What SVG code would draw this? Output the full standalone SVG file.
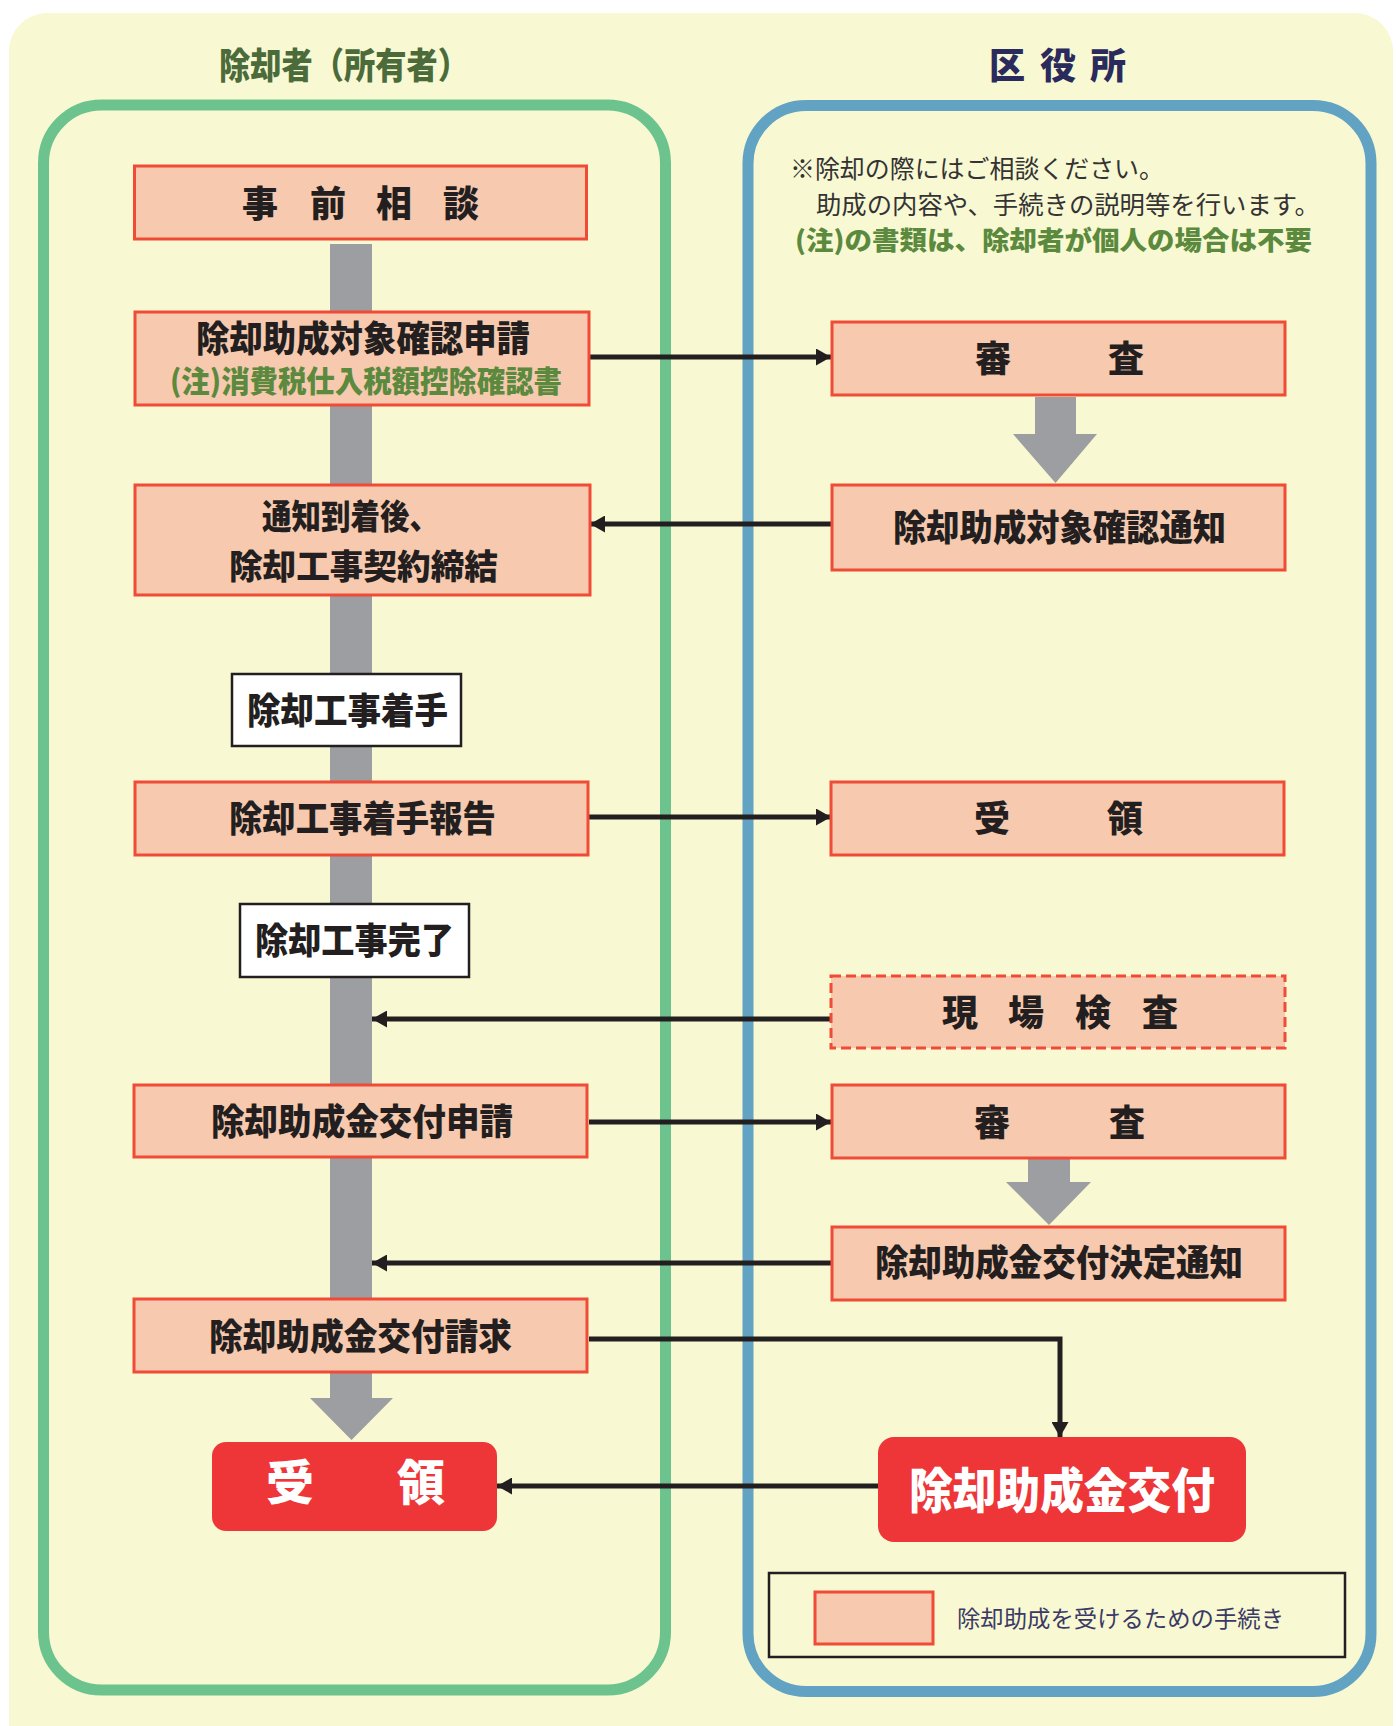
<svg xmlns="http://www.w3.org/2000/svg" width="1396" height="1726" viewBox="0 0 1396 1726">
<defs>
<style>
.bg{fill:#f8f8d2}
.lane-g{fill:none;stroke:#6cc38e;stroke-width:11}
.lane-b{fill:none;stroke:#62a2c2;stroke-width:11}
.step{fill:#f7c9ae;stroke:#ef4b37;stroke-width:3}
.dash{stroke-dasharray:10 5}
.event{fill:#ffffff;stroke:#231f20;stroke-width:2.5}
.final{fill:#ee3537}
.flow{fill:#9d9ea1}
.conn{fill:none;stroke:#231f20;stroke-width:5}
.lbl{font-family:"Noto Sans CJK JP","Noto Sans CJK SC",sans-serif;font-weight:900;font-size:36px;fill:#231f20}
.lblc{text-anchor:middle}
.white{fill:#ffffff;font-size:48px}
.note{font-family:"Noto Sans CJK JP",sans-serif;font-weight:400;font-size:25px;fill:#333333}
.noteg{font-family:"Noto Sans CJK JP",sans-serif;font-weight:900;font-size:26px;fill:#5b8a3e}
.sub{font-family:"Noto Sans CJK JP",sans-serif;font-weight:900;font-size:30px;fill:#5b8a3e}
.title{font-family:"Noto Sans CJK JP",sans-serif;font-weight:900;font-size:36px}
.legend{font-family:"Noto Sans CJK JP",sans-serif;font-weight:400;font-size:23px;fill:#3b3a66}
</style>
<marker id="ah" markerUnits="userSpaceOnUse" markerWidth="15" markerHeight="17" refX="15" refY="8.5" orient="auto">
<path d="M0,0 L15,8.5 L0,17 Z" fill="#231f20"/>
</marker>
</defs>
<rect x="0" y="0" width="1396" height="1726" fill="#ffffff"/>
<rect class="bg" x="9" y="13" width="1384" height="1760" rx="38"/>

<g id="lane-owner">
<rect class="lane-g" x="43.5" y="105" width="622" height="1585" rx="58"/>
<text class="title" x="344" y="79" text-anchor="middle" fill="#4c6b3b" textLength="250" lengthAdjust="spacingAndGlyphs">除却者（所有者）</text>
</g>
<g id="lane-office">
<rect class="lane-b" x="748" y="105.5" width="623" height="1586" rx="58"/>
<text class="title" fill="#2b2a5c" text-anchor="middle" x="1007 1058 1108" y="79">区役所</text>
</g>

<g id="flow-arrows">
<path class="flow" d="M330,244 H372 V1398 H393 L351.5,1440 L310,1398 H330 Z"/>
<path class="flow" d="M1035,397 H1076 V434 H1097 L1055.5,483 L1013,434 H1035 Z"/>
<path class="flow" d="M1028,1159 H1070 V1182 H1091 L1049,1225 L1006,1182 H1028 Z"/>
</g>

<g id="note">
<text class="note" x="790" y="178" textLength="374" lengthAdjust="spacingAndGlyphs">※除却の際にはご相談ください。</text>
<text class="note" x="816" y="214" textLength="504" lengthAdjust="spacingAndGlyphs">助成の内容や、手続きの説明等を行います。</text>
<text class="noteg" x="795" y="250" textLength="517" lengthAdjust="spacingAndGlyphs">(注)の書類は、除却者が個人の場合は不要</text>
</g>

<g id="connectors">
<path class="conn" d="M590,357 H831" marker-end="url(#ah)"/>
<path class="conn" d="M831,524 H590" marker-end="url(#ah)"/>
<path class="conn" d="M589,817 H831" marker-end="url(#ah)"/>
<path class="conn" d="M831,1019 H372" marker-end="url(#ah)"/>
<path class="conn" d="M589,1122 H831" marker-end="url(#ah)"/>
<path class="conn" d="M831,1263 H372" marker-end="url(#ah)"/>
<path class="conn" d="M589,1339 H1060 V1437" marker-end="url(#ah)"/>
<path class="conn" d="M878,1486 H497" marker-end="url(#ah)"/>
</g>

<g id="n-consult">
<rect class="step" x="134.5" y="166" width="452" height="73"/>
<text class="lbl lblc" x="260 328 394 461" y="217">事前相談</text>
</g>
<g id="n-apply-confirm">
<rect class="step" x="135" y="312" width="454" height="93"/>
<text class="lbl lblc" x="363" y="352" textLength="334" lengthAdjust="spacingAndGlyphs">除却助成対象確認申請</text>
<text class="sub lblc" x="366" y="392" textLength="392" lengthAdjust="spacingAndGlyphs">(注)消費税仕入税額控除確認書</text>
</g>
<g id="n-contract">
<rect class="step" x="135" y="485" width="455" height="110"/>
<text class="lbl" x="262" y="529" font-size="34" style="font-size:34px" textLength="177" lengthAdjust="spacingAndGlyphs">通知到着後、</text>
<text class="lbl" x="229" y="579" style="font-size:34px" textLength="269" lengthAdjust="spacingAndGlyphs">除却工事契約締結</text>
</g>
<g id="n-start">
<rect class="event" x="232" y="674" width="229" height="72"/>
<text class="lbl" x="247" y="724" textLength="201" lengthAdjust="spacingAndGlyphs">除却工事着手</text>
</g>
<g id="n-start-report">
<rect class="step" x="135" y="782" width="453" height="73"/>
<text class="lbl" x="229" y="832" textLength="267" lengthAdjust="spacingAndGlyphs">除却工事着手報告</text>
</g>
<g id="n-complete">
<rect class="event" x="240" y="904" width="229" height="73"/>
<text class="lbl" x="255" y="954" textLength="199" lengthAdjust="spacingAndGlyphs">除却工事完了</text>
</g>
<g id="n-grant-apply">
<rect class="step" x="134" y="1085" width="453" height="72"/>
<text class="lbl" x="211" y="1135" textLength="302" lengthAdjust="spacingAndGlyphs">除却助成金交付申請</text>
</g>
<g id="n-grant-claim">
<rect class="step" x="134" y="1299" width="453" height="73"/>
<text class="lbl" x="209" y="1350" textLength="303" lengthAdjust="spacingAndGlyphs">除却助成金交付請求</text>
</g>
<g id="n-receive">
<rect class="final" x="212" y="1442" width="285" height="89" rx="14"/>
<text class="lbl lblc white" x="290 421" y="1500">受領</text>
</g>

<g id="n-review1">
<rect class="step" x="832" y="322" width="453" height="73"/>
<text class="lbl lblc" x="993 1126" y="372">審査</text>
</g>
<g id="n-notice1">
<rect class="step" x="832" y="485" width="453" height="85"/>
<text class="lbl" x="893" y="541" textLength="333" lengthAdjust="spacingAndGlyphs">除却助成対象確認通知</text>
</g>
<g id="n-accept">
<rect class="step" x="831" y="782" width="453" height="73"/>
<text class="lbl lblc" x="992 1125" y="832">受領</text>
</g>
<g id="n-inspect">
<rect class="step dash" x="831" y="976" width="454" height="72"/>
<text class="lbl lblc" x="960 1026 1093 1160" y="1026">現場検査</text>
</g>
<g id="n-review2">
<rect class="step" x="832" y="1085" width="453" height="73"/>
<text class="lbl lblc" x="992 1127" y="1136">審査</text>
</g>
<g id="n-notice2">
<rect class="step" x="832" y="1227" width="453" height="73"/>
<text class="lbl" x="875" y="1276" textLength="368" lengthAdjust="spacingAndGlyphs">除却助成金交付決定通知</text>
</g>
<g id="n-pay">
<rect class="final" x="878" y="1437" width="368" height="105" rx="16"/>
<text class="lbl white" x="909" y="1508" textLength="306" lengthAdjust="spacingAndGlyphs">除却助成金交付</text>
</g>

<g id="legend">
<rect x="769" y="1573" width="576" height="84" fill="none" stroke="#231f20" stroke-width="2.5"/>
<rect class="step" x="815" y="1592" width="118" height="52" stroke-width="2"/>
<text class="legend" x="957" y="1627" textLength="327" lengthAdjust="spacingAndGlyphs">除却助成を受けるための手続き</text>
</g>
</svg>
